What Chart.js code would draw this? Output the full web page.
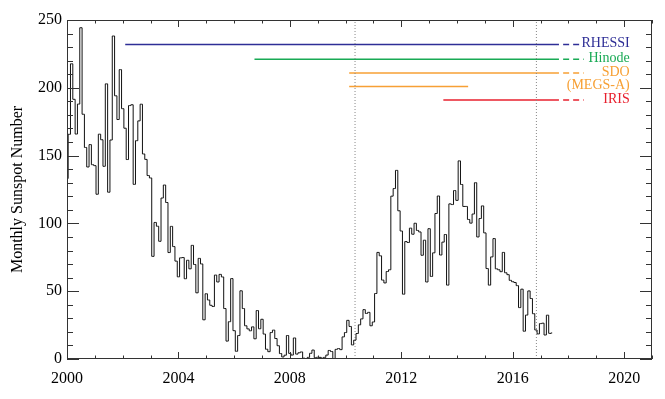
<!DOCTYPE html>
<html>
<head>
<meta charset="utf-8">
<script src="https://cdn.jsdelivr.net/npm/chart.js@4.4.1/dist/chart.umd.min.js"></script>
<style>
  body { margin: 0; background: #fff; }
  canvas { display: block; }
</style>
</head>
<body>
<canvas id="ssnChart" width="665" height="399"></canvas>
<script>
// Monthly sunspot number, one array per year (Jan..Dec)
const ssn2000 = [133.1, 165.7, 217.7, 191.5, 165.9, 188.0, 244.3, 180.5, 156.0, 141.6, 158.1, 143.3];
const ssn2001 = [142.6, 121.5, 165.8, 161.7, 142.1, 202.9, 123.0, 161.5, 238.2, 194.1, 176.6, 213.4];
const ssn2002 = [184.6, 170.2, 147.1, 186.9, 187.5, 128.8, 161.0, 175.6, 187.9, 151.2, 147.2, 135.3];
const ssn2003 = [133.5, 75.7, 100.7, 97.9, 86.8, 118.7, 128.3, 115.4, 78.5, 97.8, 82.9, 72.2];
const ssn2004 = [60.6, 74.6, 74.8, 59.2, 72.8, 66.5, 83.8, 69.7, 48.8, 74.2, 70.1, 28.9];
const ssn2005 = [48.1, 43.5, 39.6, 38.7, 61.9, 56.8, 62.4, 60.5, 37.2, 13.2, 27.5, 59.3];
const ssn2006 = [20.9, 5.7, 17.3, 50.3, 37.2, 24.5, 22.2, 20.8, 23.7, 14.9, 35.7, 22.3];
const ssn2007 = [29.3, 18.4, 7.2, 5.4, 19.5, 21.3, 15.1, 9.8, 4.0, 1.5, 2.8, 17.3];
const ssn2008 = [4.1, 2.9, 15.5, 3.6, 4.6, 5.2, 0.6, 0.3, 1.2, 4.2, 6.6, 1.0];
const ssn2009 = [1.3, 1.2, 0.6, 1.2, 2.9, 6.3, 5.5, 0.0, 7.1, 7.7, 6.9, 16.3];
const ssn2010 = [19.5, 28.5, 24.0, 10.4, 13.9, 18.8, 25.2, 29.6, 36.4, 33.6, 34.4, 24.5];
const ssn2011 = [27.3, 48.3, 78.6, 76.1, 58.2, 56.1, 64.5, 65.8, 120.1, 125.7, 139.1, 109.3];
const ssn2012 = [94.4, 47.8, 86.6, 85.9, 96.5, 92.0, 100.1, 94.8, 93.7, 76.5, 87.6, 56.8];
const ssn2013 = [96.1, 60.9, 78.3, 107.3, 120.2, 76.7, 86.2, 91.8, 54.5, 114.4, 113.9, 124.2];
const ssn2014 = [117.0, 146.1, 128.7, 112.5, 112.5, 102.9, 100.2, 106.9, 130.0, 90.0, 103.6, 112.9];
const ssn2015 = [93.0, 66.7, 54.5, 75.3, 88.8, 66.5, 65.8, 64.4, 78.6, 63.6, 62.2, 58.0];
const ssn2016 = [57.0, 56.4, 54.1, 37.9, 51.5, 20.5, 32.4, 50.2, 44.6, 33.4, 21.4, 18.5];
const ssn2017 = [26.1, 26.4, 17.7, 32.3, 18.9, 19.2];

// Missions
const missionNames = ['RHESSI', 'Hinode', 'SDO', '(MEGS-A)', 'IRIS'];
const missionStart = [2002.09, 2006.73, 2010.13, 2010.13, 2013.51];
const missionEnd = [2017.66, 2017.66, 2017.66, 2014.40, 2017.66];
const missionOngoing = [true, true, true, false, true];
const missionLevel = [232, 221, 211, 201, 191];
const missionColors = ['#2e2e96', '#19aa55', '#f7a035', '#f7a035', '#e8202e'];
const dashFrom = 2017.81;
const dashTo = 2018.55;

// Dotted vertical markers
const markerYears = [2010.34, 2016.85];

// Tick labels
const xLabelYears = [2000, 2004, 2008, 2012, 2016, 2020];
const yTickValues = [0, 50, 100, 150, 200, 250];

const serif = "'Liberation Serif', 'DejaVu Serif', serif";

const sunspots = [].concat(ssn2000, ssn2001, ssn2002, ssn2003, ssn2004, ssn2005,
  ssn2006, ssn2007, ssn2008, ssn2009, ssn2010, ssn2011, ssn2012, ssn2013,
  ssn2014, ssn2015, ssn2016, ssn2017);
const ssnPoints = sunspots.map((v, i) => ({ x: 2000 + i / 12, y: v }));

const datasets = [{
  data: ssnPoints,
  borderColor: '#111',
  borderWidth: 1,
  pointRadius: 0,
  stepped: 'middle',
  fill: false
}];

markerYears.forEach(yr => {
  datasets.push({
    data: [{ x: yr, y: 0 }, { x: yr, y: 250 }],
    borderColor: '#888',
    borderWidth: 1,
    borderDash: [1, 2],
    pointRadius: 0
  });
});

missionNames.forEach((name, i) => {
  datasets.push({
    data: [{ x: missionStart[i], y: missionLevel[i] }, { x: missionEnd[i], y: missionLevel[i] }],
    borderColor: missionColors[i],
    borderWidth: 1.5,
    pointRadius: 0
  });
  if (missionOngoing[i]) {
    datasets.push({
      data: [{ x: dashFrom, y: missionLevel[i] }, { x: dashTo, y: missionLevel[i] }],
      borderColor: missionColors[i],
      borderWidth: 1.5,
      borderDash: [6, 4],
      pointRadius: 0
    });
  }
});

// frame, inward ticks and mission labels
const framePlugin = {
  id: 'frame',
  afterDraw(chart) {
    const { ctx, chartArea: a, scales: { x, y } } = chart;
    ctx.save();
    ctx.strokeStyle = '#333';
    ctx.lineWidth = 1;
    ctx.strokeRect(a.left + 0.5, a.top + 0.5, a.right - a.left - 1, a.bottom - a.top - 1);
    ctx.beginPath();
    for (let yr = 2000; yr <= 2021; yr++) {
      const px = Math.round(x.getPixelForValue(yr)) + 0.5;
      const len = yr % 4 === 0 ? 7 : 3.5;
      ctx.moveTo(px, a.bottom); ctx.lineTo(px, a.bottom - len);
      ctx.moveTo(px, a.top); ctx.lineTo(px, a.top + len);
    }
    for (let v = 0; v <= 250; v += 10) {
      const py = Math.round(y.getPixelForValue(v)) + 0.5;
      const len = v % 50 === 0 ? 12 : 6;
      ctx.moveTo(a.left, py); ctx.lineTo(a.left + len, py);
      ctx.moveTo(a.right, py); ctx.lineTo(a.right - len, py);
    }
    ctx.stroke();

    ctx.font = '14px ' + serif;
    ctx.textAlign = 'right';
    ctx.textBaseline = 'middle';
    const tx = x.getPixelForValue(2020.2);
    missionNames.forEach((name, i) => {
      ctx.fillStyle = missionColors[i];
      ctx.fillText(name, tx, y.getPixelForValue(missionLevel[i]) - 1);
    });
    ctx.restore();
  }
};

new Chart(document.getElementById('ssnChart').getContext('2d'), {
  type: 'line',
  data: { datasets },
  options: {
    responsive: false,
    animation: false,
    parsing: true,
    layout: { padding: { left: 0, top: 20, right: 13, bottom: 0 } },
    plugins: { legend: { display: false }, tooltip: { enabled: false } },
    scales: {
      x: {
        type: 'linear',
        min: 2000,
        max: 2021,
        afterFit(scale) { scale.height = 40; },
        grid: { display: false, drawTicks: false },
        border: { display: false },
        ticks: {
          stepSize: 1,
          autoSkip: false,
          maxRotation: 0,
          padding: 10,
          color: '#000',
          font: { family: serif, size: 16 },
          callback: v => xLabelYears.includes(v) ? String(v) : ''
        }
      },
      y: {
        min: 0,
        max: 250,
        afterFit(scale) { scale.width = 67; },
        grid: { display: false, drawTicks: false },
        border: { display: false },
        afterBuildTicks(scale) { scale.ticks = yTickValues.map(v => ({ value: v })); },
        ticks: {
          padding: 5,
          color: '#000',
          font: { family: serif, size: 16 }
        },
        title: {
          display: true,
          text: 'Monthly Sunspot Number',
          color: '#000',
          font: { family: serif, size: 16 },
          padding: { top: 8, bottom: 4 }
        }
      }
    }
  },
  plugins: [framePlugin]
});
</script>
</body>
</html>
